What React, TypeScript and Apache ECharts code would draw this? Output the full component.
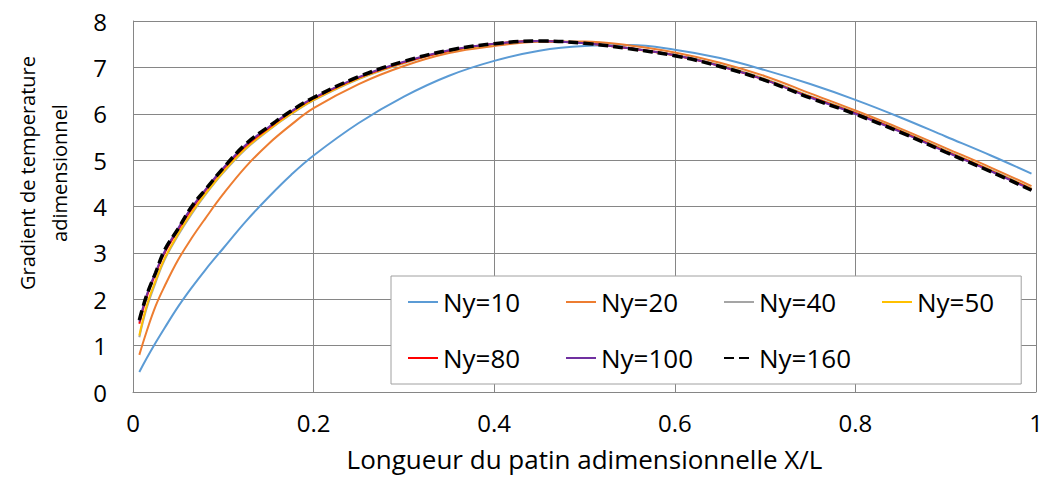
import React, { useEffect, useRef } from "react";
import * as echarts from "echarts";

const xPos = [0.007, 0.015, 0.025, 0.035, 0.05, 0.065, 0.08, 0.1, 0.125, 0.15, 0.175, 0.2, 0.25, 0.3, 0.35, 0.4, 0.45, 0.5, 0.55, 0.6, 0.65, 0.7, 0.75, 0.8, 0.85, 0.9, 0.95, 0.995];

const ny10 = [0.43, 0.72, 1.06, 1.38, 1.84, 2.25, 2.63, 3.10, 3.68, 4.20, 4.68, 5.10, 5.80, 6.37, 6.82, 7.14, 7.36, 7.46, 7.48, 7.38, 7.20, 6.94, 6.64, 6.30, 5.92, 5.51, 5.10, 4.71];
const ny20 = [0.80, 1.30, 1.85, 2.28, 2.85, 3.32, 3.74, 4.27, 4.86, 5.35, 5.76, 6.12, 6.64, 7.03, 7.31, 7.46, 7.55, 7.56, 7.47, 7.32, 7.10, 6.81, 6.44, 6.07, 5.68, 5.26, 4.84, 4.44];
const ny40 = [1.18, 1.80, 2.36, 2.85, 3.38, 3.84, 4.25, 4.73, 5.24, 5.64, 5.99, 6.29, 6.75, 7.09, 7.35, 7.50, 7.57, 7.52, 7.42, 7.27, 7.05, 6.75, 6.38, 6.03, 5.64, 5.21, 4.79, 4.39];
const ny50 = [1.22, 1.85, 2.40, 2.88, 3.41, 3.87, 4.27, 4.75, 5.26, 5.65, 6.00, 6.30, 6.76, 7.10, 7.35, 7.50, 7.57, 7.52, 7.41, 7.26, 7.04, 6.74, 6.37, 6.02, 5.63, 5.20, 4.78, 4.38];
const ny80 = [1.47, 2.04, 2.55, 3.00, 3.50, 3.95, 4.34, 4.81, 5.31, 5.69, 6.04, 6.33, 6.78, 7.11, 7.36, 7.51, 7.57, 7.52, 7.41, 7.26, 7.03, 6.73, 6.36, 6.01, 5.62, 5.19, 4.77, 4.37];
const ny100 = [1.52, 2.08, 2.58, 3.03, 3.53, 3.98, 4.36, 4.83, 5.33, 5.71, 6.05, 6.34, 6.79, 7.12, 7.37, 7.51, 7.57, 7.52, 7.41, 7.26, 7.03, 6.73, 6.35, 6.00, 5.61, 5.18, 4.76, 4.36];
const ny160 = [1.55, 2.08, 2.57, 3.06, 3.52, 4.00, 4.36, 4.83, 5.35, 5.72, 6.06, 6.35, 6.80, 7.13, 7.37, 7.51, 7.57, 7.52, 7.40, 7.25, 7.02, 6.72, 6.34, 5.99, 5.60, 5.17, 4.75, 4.35];

const seriesNames = ["Ny=10", "Ny=20", "Ny=40", "Ny=50", "Ny=80", "Ny=100", "Ny=160"];
const seriesValues = [ny10, ny20, ny40, ny50, ny80, ny100, ny160];
const seriesColors = ["#5B9BD5", "#ED7D31", "#A5A5A5", "#FFC000", "#FF0000", "#7030A0", "#000000"];
const legendRow1 = ["Ny=10", "Ny=20", "Ny=40", "Ny=50"];
const legendRow2 = ["Ny=80", "Ny=100", "Ny=160"];

const xTitle = "Longueur du patin adimensionnelle X/L";
const yTitle = "Gradient de temperature\nadimensionnel";

const FONT = "'Open Sans', 'Noto Sans', sans-serif";

export default function App() {
  const ref = useRef<HTMLDivElement>(null);
  useEffect(() => {
    if (!ref.current) return;
    const chart = echarts.init(ref.current, undefined, { renderer: "svg" });
    const series = seriesNames.map((name, i) => ({
      name,
      type: "line",
      data: xPos.map((x, j) => [x, seriesValues[i][j]]),
      showSymbol: false,
      symbol: "none",
      smooth: 0.4,
      z: 2 + i,
      lineStyle:
        i === 6
          ? { color: seriesColors[i], width: 3.5, type: [10, 5] }
          : { color: seriesColors[i], width: 2 },
      itemStyle: { color: seriesColors[i] },
    }));
    const richText = {
      t: { fontFamily: FONT, fontSize: 26, color: "#000", width: 116, lineHeight: 30 },
      s: { fontFamily: FONT, fontSize: 26, color: "#000", width: 73, lineHeight: 30 },
    };
    const legendCommon = {
      orient: "horizontal",
      itemWidth: 30,
      itemHeight: 14,
      itemGap: 6,
      left: 391,
      itemStyle: { opacity: 0 },
      formatter: (name: string) => (name === "Ny=50" ? `{s|${name}}` : `{t|${name}}`),
      textStyle: { fontFamily: FONT, fontSize: 26, color: "#000", rich: richText },
    };
    chart.setOption({
      animation: false,
      backgroundColor: "#ffffff",
      grid: { left: 133, right: 10, top: 21, bottom: 85 },
      xAxis: {
        type: "value",
        min: 0,
        max: 1,
        interval: 0.2,
        name: xTitle,
        nameLocation: "middle",
        nameGap: 54,
        nameTextStyle: { fontFamily: FONT, fontSize: 26, color: "#000" },
        axisLine: { show: true, lineStyle: { color: "#868686", width: 1 } },
        axisTick: { show: false },
        axisLabel: { fontFamily: FONT, fontSize: 24, color: "#000", margin: 18, formatter: (v: number) => String(Math.round(v * 10) / 10) },
        splitLine: { show: true, lineStyle: { color: "#868686", width: 1 } },
      },
      yAxis: {
        type: "value",
        min: 0,
        max: 8,
        interval: 1,
        axisLine: { show: true, lineStyle: { color: "#868686", width: 1 } },
        axisTick: { show: false },
        axisLabel: { fontFamily: FONT, fontSize: 24, color: "#000", margin: 33, align: "center" },
        splitLine: { show: true, lineStyle: { color: "#868686", width: 1 } },
      },
      legend: [
        {
          ...legendCommon,
          data: legendRow1,
          top: 276,
          padding: [13, 27, 69, 16],
          backgroundColor: "#ffffff",
          borderColor: "#A0A0A0",
          borderWidth: 1,
          borderRadius: 0,
        },
        {
          ...legendCommon,
          data: legendRow2,
          top: 345,
          padding: [0, 0, 0, 16],
        },
      ],
      graphic: [
        {
          type: "text",
          x: 43,
          y: 173,
          rotation: Math.PI / 2,
          style: {
            text: yTitle,
            font: `20px ${FONT}`,
            fill: "#000",
            textAlign: "center",
            textVerticalAlign: "middle",
            lineHeight: 32,
          },
        },
      ],
      series,
    });
    return () => chart.dispose();
  }, []);
  return (
    <div
      ref={ref}
      style={{ position: "absolute", left: 0, top: 0, width: 1046, height: 477 }}
    />
  );
}
